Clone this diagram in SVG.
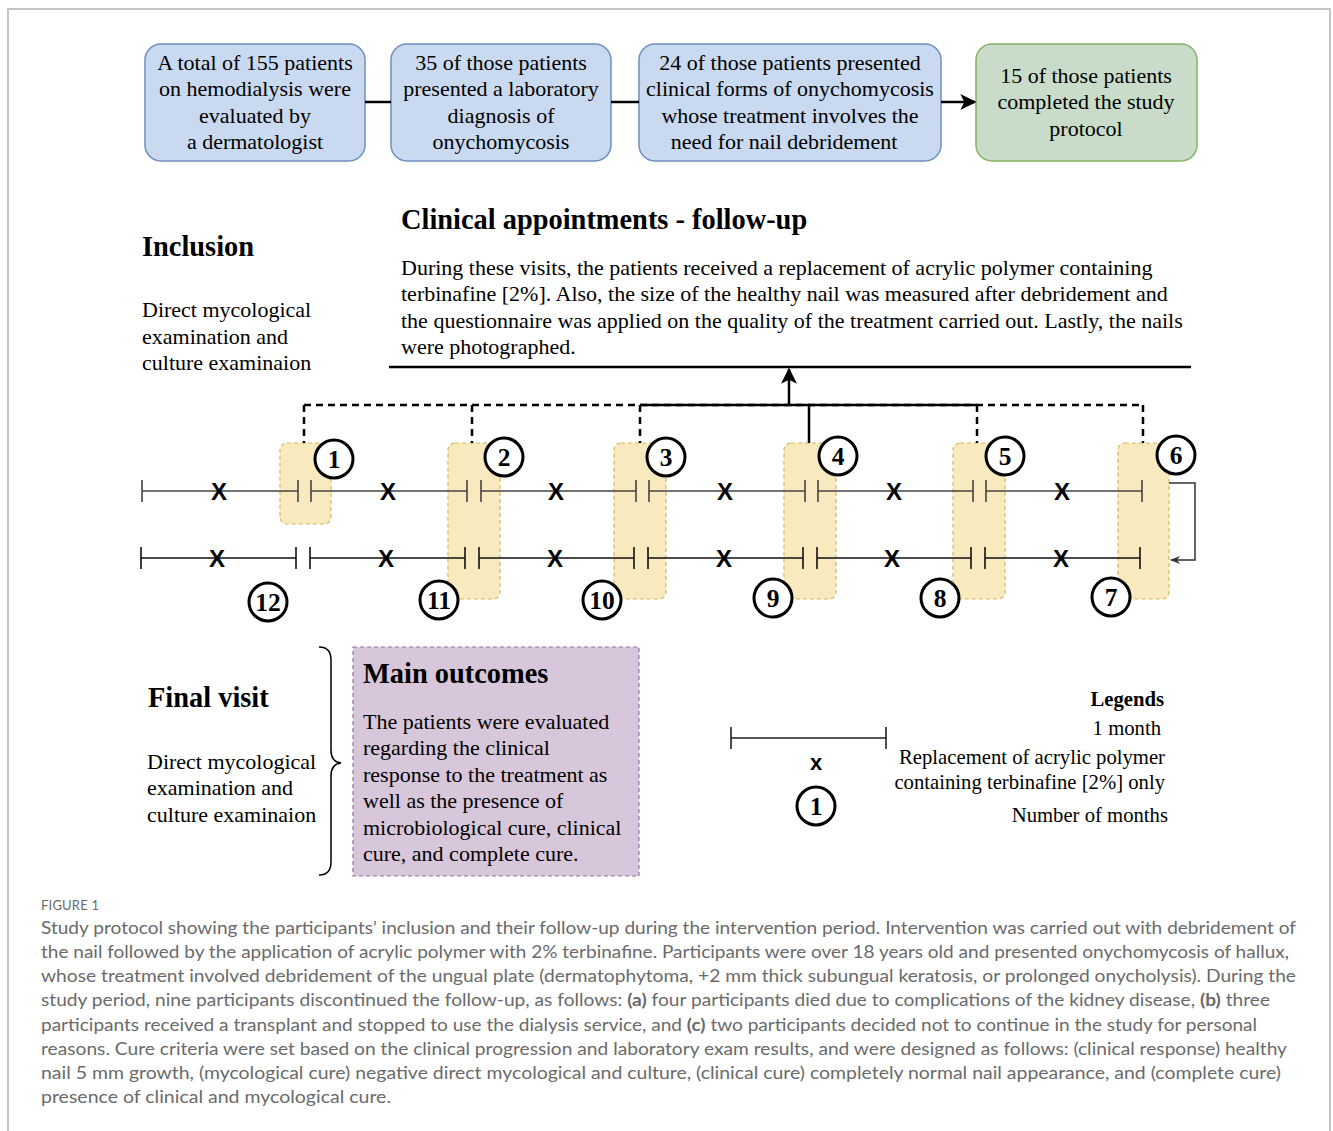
<svg xmlns="http://www.w3.org/2000/svg" width="1333" height="1131" viewBox="0 0 1333 1131">
  <style>
    .serif { font-family: "Liberation Serif", "Times New Roman", serif; fill: #000; }
    .body { font-size: 22px; }
    .head { font-size: 28.4px; font-weight: bold; }
    .leg { font-size: 20.7px; }
    .num { font-family: "Liberation Serif", serif; font-size: 25.5px; font-weight: bold; text-anchor: middle; }
    .xm { font-family: "Liberation Sans", Arial, sans-serif; font-size: 24px; font-weight: bold; text-anchor: middle; }
    .blue { fill: #c9d9ef; stroke: #6c8ebf; stroke-width: 1.5; }
    .green { fill: #c8dcc9; stroke: #82b366; stroke-width: 1.5; }
    .visit { fill: #f8e9be; stroke: #d9b65a; stroke-width: 1.2; stroke-dasharray: 4 3; }
    .ring { fill: #fff; stroke: #000; stroke-width: 3; }
    .tl { stroke: #444; stroke-width: 1.6; fill: none; }
    .tl2 { stroke: #111; stroke-width: 1.6; fill: none; }
    .dash { stroke: #000; stroke-width: 2.5; stroke-dasharray: 7 5; fill: none; }
    .solid { stroke: #000; stroke-width: 2.5; fill: none; }
    .cap { font-family: Lato, "Open Sans", "Liberation Sans", sans-serif; fill: #6a6a6a; font-size: 17.5px; }
  </style>
  <defs>
    <marker id="arrowBig" viewBox="0 0 12 12" refX="11" refY="6" markerWidth="16" markerHeight="16" markerUnits="userSpaceOnUse" orient="auto">
      <path d="M0,0 L12,6 L0,12 L3,6 z" fill="#000"/>
    </marker>
    <marker id="arrowSmall" viewBox="0 0 10 10" refX="9" refY="5" markerWidth="10" markerHeight="10" markerUnits="userSpaceOnUse" orient="auto">
      <path d="M0,1 L10,5 L0,9 L3,5 z" fill="#333"/>
    </marker>
  </defs>

  <rect width="1333" height="1131" fill="#fff"/>
  <!-- page frame -->
  <path d="M8,1131 V9 H1330 V1131" fill="none" stroke="#c4c4c4" stroke-width="2"/>

  <!-- flow boxes -->
  <g id="box-evaluated">
    <rect class="blue" x="145" y="44" width="220" height="117" rx="16"/>
    <text class="serif body" text-anchor="middle"><tspan x="255" y="70">A total of 155 patients</tspan><tspan x="255" y="96">on hemodialysis were</tspan><tspan x="255" y="123">evaluated by</tspan><tspan x="255" y="149">a dermatologist</tspan></text>
  </g>
  <g id="box-diagnosis">
    <rect class="blue" x="391" y="44" width="220" height="117" rx="16"/>
    <text class="serif body" text-anchor="middle"><tspan x="501" y="70">35 of those patients</tspan><tspan x="501" y="96">presented a laboratory</tspan><tspan x="501" y="123">diagnosis of</tspan><tspan x="501" y="149">onychomycosis</tspan></text>
  </g>
  <g id="box-debridement">
    <rect class="blue" x="639" y="44" width="302" height="117" rx="16"/>
    <text class="serif body" text-anchor="middle"><tspan x="790" y="70">24 of those patients presented</tspan><tspan x="790" y="96">clinical forms of onychomycosis</tspan><tspan x="790" y="123">whose treatment involves the</tspan><tspan x="784" y="149">need for nail debridement</tspan></text>
  </g>
  <g id="box-completed">
    <rect class="green" x="976" y="44" width="221" height="117" rx="16"/>
    <text class="serif body" text-anchor="middle"><tspan x="1086" y="83">15 of those patients</tspan><tspan x="1086" y="109">completed the study</tspan><tspan x="1086" y="136">protocol</tspan></text>
  </g>

  <!-- section labels -->
  <g id="inclusion">
    <text class="serif head" x="142" y="256">Inclusion</text>
    <text class="serif body"><tspan x="142" y="317">Direct mycological</tspan><tspan x="142" y="344">examination and</tspan><tspan x="142" y="370">culture examinaion</tspan></text>
  </g>
  <g id="follow-up">
    <text class="serif head" x="401" y="229">Clinical appointments - follow-up</text>
    <text class="serif body"><tspan x="401" y="275">During these visits, the patients received a replacement of acrylic polymer containing</tspan><tspan x="401" y="301">terbinafine [2%]. Also, the size of the healthy nail was measured after debridement and</tspan><tspan x="401" y="328">the questionnaire was applied on the quality of the treatment carried out. Lastly, the nails</tspan><tspan x="401" y="354">were photographed.</tspan></text>
    <line x1="389" y1="367" x2="1191" y2="367" stroke="#000" stroke-width="2.5"/>
  </g>

  <!-- visit windows -->
  <g id="visit-1"><rect class="visit" x="280" y="443" width="51" height="81" rx="7"/></g>
  <g id="visit-2"><rect class="visit" x="448" y="443" width="52" height="156" rx="7"/></g>
  <g id="visit-3"><rect class="visit" x="614" y="443" width="52" height="156" rx="7"/></g>
  <g id="visit-4"><rect class="visit" x="784" y="443" width="52" height="156" rx="7"/></g>
  <g id="visit-5"><rect class="visit" x="953" y="443" width="52" height="156" rx="7"/></g>
  <g id="visit-6"><rect class="visit" x="1118" y="443" width="51" height="156" rx="7"/></g>

  <!-- connectors -->
  <g id="connectors">
    <line class="solid" x1="365" y1="102" x2="391" y2="102"/>
    <line class="solid" x1="611" y1="102" x2="639" y2="102"/>
    <line class="solid" x1="941" y1="102" x2="975" y2="102" marker-end="url(#arrowBig)"/>
    <!-- visits feeding the follow-up description -->
    <line class="dash" x1="304" y1="405" x2="1143" y2="405"/>
    <line class="solid" x1="640" y1="405" x2="977" y2="405"/>
    <line class="dash" x1="304" y1="405" x2="304" y2="443"/>
    <line class="dash" x1="472" y1="405" x2="472" y2="443"/>
    <line class="dash" x1="640" y1="405" x2="640" y2="443"/>
    <line class="solid" x1="809" y1="405" x2="809" y2="443"/>
    <line class="dash" x1="977" y1="405" x2="977" y2="443"/>
    <line class="dash" x1="1143" y1="405" x2="1143" y2="443"/>
    <line class="solid" x1="789" y1="405" x2="789" y2="369" marker-end="url(#arrowBig)"/>
    <!-- wrap from month 6 to month 7 -->
    <path d="M1169,483 H1195 V560 H1171" fill="none" stroke="#333" stroke-width="1.5" marker-end="url(#arrowSmall)"/>
  </g>

  <!-- timeline, months 1-6 -->
  <g id="timeline-top">
    <path class="tl" d="M142,491 H298 M311,491 H467 M481,491 H636 M649,491 H805 M818,491 H973 M986,491 H1142"/>
    <path class="tl" d="M142,480 V502 M298,480 V502 M311,480 V502 M467,480 V502 M481,480 V502 M636,480 V502 M649,480 V502 M805,480 V502 M818,480 V502 M973,480 V502 M986,480 V502 M1142,480 V502"/>
    <text class="xm" x="219" y="500">X</text>
    <text class="xm" x="388" y="500">X</text>
    <text class="xm" x="556" y="500">X</text>
    <text class="xm" x="725" y="500">X</text>
    <text class="xm" x="894" y="500">X</text>
    <text class="xm" x="1062" y="500">X</text>
  </g>
  <!-- timeline, months 7-12 -->
  <g id="timeline-bottom">
    <path class="tl2" d="M141,558 H296 M310,558 H465 M479,558 H634 M648,558 H803 M817,558 H971 M985,558 H1140"/>
    <path class="tl2" d="M141,547 V569 M296,547 V569 M310,547 V569 M465,547 V569 M479,547 V569 M634,547 V569 M648,547 V569 M803,547 V569 M817,547 V569 M971,547 V569 M985,547 V569 M1140,547 V569"/>
    <text class="xm" x="217" y="567">X</text>
    <text class="xm" x="386" y="567">X</text>
    <text class="xm" x="555" y="567">X</text>
    <text class="xm" x="724" y="567">X</text>
    <text class="xm" x="892" y="567">X</text>
    <text class="xm" x="1061" y="567">X</text>
  </g>

  <!-- month markers -->
  <g id="m1"><circle class="ring" cx="334" cy="459" r="19"/><text class="num" x="334" y="468">1</text></g>
  <g id="m2"><circle class="ring" cx="504" cy="457" r="19"/><text class="num" x="504" y="466">2</text></g>
  <g id="m3"><circle class="ring" cx="666" cy="457" r="19"/><text class="num" x="666" y="466">3</text></g>
  <g id="m4"><circle class="ring" cx="838" cy="456" r="19"/><text class="num" x="838" y="465">4</text></g>
  <g id="m5"><circle class="ring" cx="1005" cy="456" r="19"/><text class="num" x="1005" y="465">5</text></g>
  <g id="m6"><circle class="ring" cx="1176" cy="455" r="19"/><text class="num" x="1176" y="464">6</text></g>
  <g id="m7"><circle class="ring" cx="1111" cy="597" r="19"/><text class="num" x="1111" y="606">7</text></g>
  <g id="m8"><circle class="ring" cx="940" cy="598" r="19"/><text class="num" x="940" y="607">8</text></g>
  <g id="m9"><circle class="ring" cx="773" cy="598" r="19"/><text class="num" x="773" y="607">9</text></g>
  <g id="m10"><circle class="ring" cx="602" cy="600" r="19"/><text class="num" x="602" y="609">10</text></g>
  <g id="m11"><circle class="ring" cx="439" cy="600" r="19"/><text class="num" x="439" y="609">11</text></g>
  <g id="m12"><circle class="ring" cx="268" cy="602" r="19"/><text class="num" x="268" y="611">12</text></g>

  <!-- final visit -->
  <g id="final-visit">
    <text class="serif head" x="148" y="707">Final visit</text>
    <text class="serif body"><tspan x="147" y="769">Direct mycological</tspan><tspan x="147" y="795">examination and</tspan><tspan x="147" y="822">culture examinaion</tspan></text>
    <path d="M319,647 Q331,647 331,660 V750 Q331,762 341,763 Q331,764 331,776 V862 Q331,875 319,875" fill="none" stroke="#000" stroke-width="1.5"/>
  </g>
  <g id="main-outcomes">
    <rect x="353" y="647" width="286" height="229" fill="#d8c7da" stroke="#9673a6" stroke-width="1.2" stroke-dasharray="4 3"/>
    <text class="serif head" x="363" y="683">Main outcomes</text>
    <text class="serif body"><tspan x="363" y="729">The patients were evaluated</tspan><tspan x="363" y="755">regarding the clinical</tspan><tspan x="363" y="782">response to the treatment as</tspan><tspan x="363" y="808">well as the presence of</tspan><tspan x="363" y="835">microbiological cure, clinical</tspan><tspan x="363" y="861">cure, and complete cure.</tspan></text>
  </g>

  <!-- legend -->
  <g id="legend">
    <path d="M731,738 H886 M731,727 V749 M886,727 V749" stroke="#222" stroke-width="1.6" fill="none"/>
    <text class="xm" x="816" y="770" style="font-size:22px">x</text>
    <circle class="ring" cx="816" cy="806" r="19"/>
    <text class="num" x="816" y="815">1</text>
    <text class="serif leg" text-anchor="end" font-weight="bold" x="1164" y="706">Legends</text>
    <text class="serif leg" text-anchor="end" x="1161" y="735">1 month</text>
    <text class="serif leg" text-anchor="end"><tspan x="1165" y="764">Replacement of acrylic polymer</tspan><tspan x="1165" y="789">containing terbinafine [2%] only</tspan></text>
    <text class="serif leg" text-anchor="end" x="1168" y="822">Number of months</text>
  </g>

  <!-- caption -->
  <g id="caption">
    <text class="cap" x="41" y="910" style="font-size:13px;letter-spacing:0.2px">FIGURE 1</text>
    <text class="cap" x="41" y="934" textLength="1255" lengthAdjust="spacingAndGlyphs">Study protocol showing the participants’ inclusion and their follow-up during the intervention period. Intervention was carried out with debridement of</text>
    <text class="cap" x="41" y="958" textLength="1248" lengthAdjust="spacingAndGlyphs">the nail followed by the application of acrylic polymer with 2% terbinafine. Participants were over 18 years old and presented onychomycosis of hallux,</text>
    <text class="cap" x="41" y="982" textLength="1255" lengthAdjust="spacingAndGlyphs">whose treatment involved debridement of the ungual plate (dermatophytoma, +2 mm thick subungual keratosis, or prolonged onycholysis). During the</text>
    <text class="cap" x="41" y="1006" textLength="1229" lengthAdjust="spacingAndGlyphs">study period, nine participants discontinued the follow-up, as follows: <tspan font-weight="bold">(a)</tspan> four participants died due to complications of the kidney disease, <tspan font-weight="bold">(b)</tspan> three</text>
    <text class="cap" x="41" y="1031" textLength="1216" lengthAdjust="spacingAndGlyphs">participants received a transplant and stopped to use the dialysis service, and <tspan font-weight="bold">(c)</tspan> two participants decided not to continue in the study for personal</text>
    <text class="cap" x="41" y="1055" textLength="1246" lengthAdjust="spacingAndGlyphs">reasons. Cure criteria were set based on the clinical progression and laboratory exam results, and were designed as follows: (clinical response) healthy</text>
    <text class="cap" x="41" y="1079" textLength="1240" lengthAdjust="spacingAndGlyphs">nail 5 mm growth, (mycological cure) negative direct mycological and culture, (clinical cure) completely normal nail appearance, and (complete cure)</text>
    <text class="cap" x="41" y="1103" textLength="350" lengthAdjust="spacingAndGlyphs">presence of clinical and mycological cure.</text>
  </g>
</svg>
